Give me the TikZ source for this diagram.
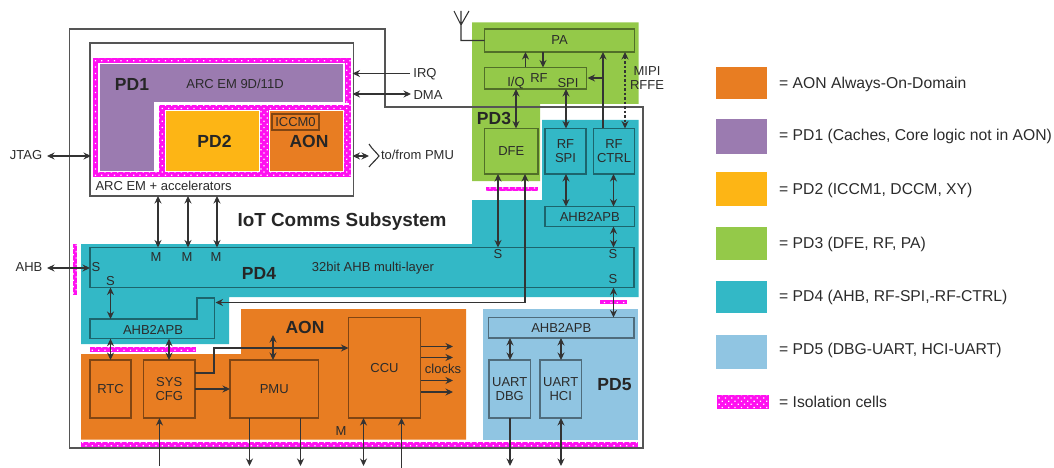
\documentclass[tikz,border=0pt]{standalone}
\usepackage{fontspec}
\setmainfont{Liberation Sans}
\usetikzlibrary{arrows.meta,patterns.meta}
\definecolor{cOrange}{HTML}{E87D22}
\definecolor{cPurple}{HTML}{9B7BB0}
\definecolor{cYellow}{HTML}{FDB515}
\definecolor{cGreen}{HTML}{94C949}
\definecolor{cTeal}{HTML}{33B8C6}
\definecolor{cBlue}{HTML}{90C5E2}
\definecolor{cLine}{HTML}{333333}
\definecolor{cGray}{HTML}{555555}
\definecolor{cTxt}{HTML}{2B2B2B}
\definecolor{cMag}{HTML}{FF10F0}
\tikzset{
  lbl/.style={font=\fontsize{13}{13.5}\selectfont,text=cTxt,inner sep=0pt,outer sep=0pt,align=center},
  big/.style={font=\fontsize{17.5}{18}\selectfont\bfseries,text=black!85,inner sep=0pt},
  legendtext/.style={font=\fontsize{15.7}{17}\selectfont,text=cTxt,anchor=west,inner sep=0pt},
  block/.style={draw=#1,line width=1.2pt,inner sep=0pt,outer sep=0pt},
  block/.default=cGray,
  wire/.style={draw=cLine,line width=1.1pt,>={Stealth[length=7.5pt,width=7pt]}},
  iso/.style={preaction={fill=cMag},pattern={Dots[radius=0.9pt,distance=4.5pt,angle=45]},pattern color=white},
  swatch/.style={inner sep=0pt,outer sep=0pt,draw=none},
}
\newcommand{\bx}[6]{\node[block=#2!55!black,minimum width={(#5-#3)*1pt},minimum height={(#6-#4)*1pt}] (#1) at ({(#3+#5)/2},{(#4+#6)/2}) {};}
\newcommand{\rg}[6]{\node[swatch,fill=#2,minimum width={(#5-#3)*1pt},minimum height={(#6-#4)*1pt}] (#1) at ({(#3+#5)/2},{(#4+#6)/2}) {};}
\begin{document}
\begin{tikzpicture}[x=1pt,y=-1pt]
\useasboundingbox (0,0) rectangle (1054,468);
% column coordinates
\foreach \n/\v in {xa/158,xb/188,xc/217,xd/498,xe/525,xf/613.5,xg/110.5,xh/169,xi/159.5,xj/249.5,xk/300.5,xl/273,xm/363.5,xn/401.5,xo/510,xp/561,xq/516,xr/566,xs/525.5,xt/543,xu/603,xv/625}
  \coordinate (\n) at (\v,0);
% power-domain regions
\fill[cGreen] (472,22.5)--(638.5,22.5)--(638.5,104)--(540,104)--(540,181)--(472,181)--cycle;
\fill[cTeal] (81,244)--(472,244)--(472,200)--(542,200)--(542,120)--(638.5,120)--(638.5,297)--(229,297)--(229,344)--(81,344)--cycle;
\fill[cOrange] (81,354)--(241,354)--(241,309)--(466,309)--(466,439.5)--(81,439.5)--cycle;
\fill[cBlue] (483,309) rectangle (638,439.5);
% subsystem outline
\draw[cGray,line width=1.1pt] (69.5,29)--(385,29)--(385,107)--(643,107)--(643,448)--(69.5,448)--cycle;
% ARC box
\node[block=cGray,fill=white,minimum width=263.5pt,minimum height=153pt] (arc) at (221.75,119.5) {};
\path[iso] (92.5,58) rectangle (351,177);
\fill[cPurple,draw=white,line width=1.2pt] (99,63.5)--(344,63.5)--(344,103)--(155,103)--(155,171.5)--(99,171.5)--cycle;
\fill[white] (155,103.5) rectangle (159,172);
\fill[white] (155,103.5) rectangle (349,105);
\rg{pdtwo}{cYellow}{165}{111}{259}{171}
\rg{pdaon}{cOrange}{269}{111}{343}{171}
\draw[white,line width=1pt] (pdtwo.south west) rectangle (pdtwo.north east) (pdaon.south west) rectangle (pdaon.north east);
\bx{iccm}{cOrange}{272}{114}{319}{130}
\node[lbl] at (iccm) {ICCM0};
\node[big] at (214.5,141) {PD2};
\node[big] at (309,141) {AON};
\node[big] at (132,84) {PD1};
\node[lbl] (arcem) at (235,84) {ARC EM 9D/11D};
\node[lbl,anchor=west] (arcacc) at (95.5,186) {ARC EM + accelerators};
\node[font=\fontsize{18.9}{19}\selectfont\bfseries,text=black!85,inner sep=0pt] (iot) at (342,222) {IoT Comms Subsystem};
% PD3
\bx{pa}{cGreen}{484.5}{29}{634.5}{52}
\bx{rf}{cGreen}{484.5}{67.5}{586.5}{89}
\bx{dfe}{cGreen}{484.5}{128.5}{538}{174}
\node[lbl] at (pa) {PA};
\node[lbl] (rflab) at (539,78) {RF};
\node[lbl] (iq) at (516,83) {I/Q};
\node[lbl] (spi) at (568,83) {SPI};
\node[lbl] at (dfe) {DFE};
\node[big] (pdthree) at (494,118) {PD3};
\path[iso] (486,186.5) rectangle (538,190.5);
% PD4
\bx{bus}{cTeal}{90}{247.5}{634}{287.5}
\bx{rfspi}{cTeal}{545}{128.5}{586}{174}
\bx{rfctrl}{cTeal}{593.5}{128.5}{634.5}{174}
\bx{brup}{cTeal}{545}{206.5}{634.5}{226.5}
\node[lbl] at (rfspi) {RF\\[1pt]SPI};
\node[lbl] at (rfctrl) {RF\\[1pt]CTRL};
\node[lbl] at (brup) {AHB2APB};
\node[big] (pdfour) at (259,273) {PD4};
\node[lbl] (buslab) at (373,268) {32bit AHB multi-layer};
\foreach \n/\x/\y/\t in {sa/96/267/S,sb/110.5/281/S,sc/498/254/S,sd/613/254/S,se/613/279/S,ma/156/257/M,mb/187/257/M,mc/216/257/M}
  \node[lbl] (\n) at (\x,\y) {\t};
\draw[cTeal!55!black,line width=1.2pt] (90,319)--(197,319)--(197,298)--(214.5,298)--(214.5,338.7)--(90,338.7)--cycle;
\node[lbl] (brleft) at (153,330) {AHB2APB};
\coordinate (brlt) at (110.5,319);
\coordinate (brlb) at (110.5,338.7);
\coordinate (brin) at (215.5,302.5);
\path[iso] (90,347) rectangle (196,351.5);
\path[iso] (600,300) rectangle (627,304);
\path[iso] (72.5,244) rectangle (76.5,295);
\path[iso] (81,442) rectangle (638,447);
% AON
\bx{rtc}{cOrange}{90}{360}{131}{418}
\bx{sys}{cOrange}{143.5}{360}{195}{418}
\bx{pmu}{cOrange}{230}{360}{318.5}{418}
\bx{ccu}{cOrange}{348.5}{317.5}{420.5}{418}
\node[lbl] at (rtc) {RTC};
\node[lbl] at (sys) {SYS\\[0pt]CFG};
\node[lbl] at (pmu) {PMU};
\node[lbl] at (ccu) {CCU};
\node[big] (aon) at (305,327) {AON};
\node[lbl] (mlab) at (341,431) {M};
\node[lbl] (clk) at (443,369) {clocks};
% PD5
\bx{brlow}{cBlue}{488.5}{317.5}{634}{338}
\bx{dbg}{cBlue}{489}{360}{530.5}{418}
\bx{hci}{cBlue}{540}{360}{581.5}{418}
\node[lbl] at (brlow) {AHB2APB};
\node[lbl] at (dbg) {UART\\[0pt]DBG};
\node[lbl] at (hci) {UART\\[0pt]HCI};
\node[big] (pdfive) at (614.5,385) {PD5};
% outer labels
\node[lbl] (jtag) at (26,155) {JTAG};
\node[lbl] (ahb) at (29,267) {AHB};
\node[lbl] (irq) at (425,74) {IRQ};
\node[lbl] (dma) at (428,95) {DMA};
\node[lbl,anchor=west] (tofrom) at (381,155) {to/from PMU};
\node[lbl] (mipi) at (647,78) {MIPI\\[0pt]RFFE};
% free ends
\foreach \n/\x/\y in {jtl/47/156,jtr/91/156,ahl/47/268,irqr/410/73.5,irql/352.5/73.5,dmar/411/94,dmal/352.5/94,pmul/352.5/156,pmur/369/156,ante/461/25,antt/461/11,antl/454/11,antr/469/11,brc/369/144,brd/369/167,brm/379/156,rfin/587.5/78,cka/453/346.5,ckb/453/357.5,ckc/453/380.5,ckd/453/392,cea/421/346.5,ceb/421/357.5,cec/421/380.5,ced/421/392,pmt/273/335,sysa/195/373,sysb/195/389,bota/159.5/466,botb/249.5/466,botc/300.5/466,botd/363.5/466,bote/401.5/468,botf/510/466,botg/561/466,ccul/348.5/348}
  \coordinate (\n) at (\x,\y);
% connectors
\begin{scope}[wire]
\draw[<->] (jtl) -- (jtr);
\draw[<->] (ahl) -- (bus.west |- ahl);
\draw[->] (irqr) -- (irql);
\draw[<->] (dmal) -- (dmar);
\draw[<->] (pmul) -- (pmur);
\draw (brc) .. controls (372,149) and (376,152) .. (brm) .. controls (376,160) and (372,163) .. (brd);
\draw[<->] (arc.south -| xa) -- (bus.north -| xa);
\draw[<->] (arc.south -| xb) -- (bus.north -| xb);
\draw[<->] (arc.south -| xc) -- (bus.north -| xc);
\draw[<->] (dfe.south -| xd) -- (bus.north -| xd);
\draw[<->] (dfe.south -| xe) |- (brin);
\draw[<->] (brup.south -| xf) -- (bus.north -| xf);
\draw[<->] (bus.south -| xf) -- (brlow.north -| xf);
\draw[<->] (bus.south -| brlt) -- (brlt);
\draw[<->] (brlb) -- (rtc.north -| brlb);
\draw[<->] (brlb -| xh) -- (sys.north -| xh);
\draw[<->] (rfspi.south -| xr) -- (brup.north -| xr);
\draw[<->] (rfctrl.south -| xf) -- (brup.north -| xf);
\draw[<->] (rf.south -| xq) -- (dfe.north -| xq);
\draw[<->] (rf.south -| xr) -- (rfspi.north -| xr);
\draw[->] (rf.north -| xs) -- (pa.south -| xs);
\draw[->] (pa.south -| xt) -- (rf.north -| xt);
\draw[->] (rfctrl.north -| xu) -- (pa.south -| xu);
\draw[->] (rfin -| xu) -- (rfin);
\draw[<->,dash pattern=on 2.5pt off 2pt] (pa.south -| xv) -- (rfctrl.north -| xv);
\draw (antl) -- (ante) -- (antr) (antt) -- (ante) |- (pa.west);
\draw[->] (sysb) -- (pmu.west |- sysb);
\draw[->] (sysa) -- (214,373) -- (214,348) -- (ccul);
\draw[<->] (pmu.north -| pmt) -- (pmt);
\draw[->] (cea) -- (cka);
\draw[->] (ceb) -- (ckb);
\draw[->] (cec) -- (ckc);
\draw[->] (ced) -- (ckd);
\draw[->] (bota) -- (sys.south -| bota);
\draw[->] (pmu.south -| botb) -- (botb);
\draw[->] (pmu.south -| botc) -- (botc);
\draw[<->] (ccu.south -| botd) -- (botd);
\draw[->] (bote) -- (ccu.south -| bote);
\draw[->] (dbg.south -| botf) -- (botf);
\draw[<->] (hci.south -| botg) -- (botg);
\draw[<->] (brlow.south -| botf) -- (dbg.north -| botf);
\draw[<->] (brlow.south -| botg) -- (hci.north -| botg);
\end{scope}
% legend
\rg{la}{cOrange}{716}{67}{767}{99.5}
\rg{lb}{cPurple}{716}{119}{767}{153.5}
\rg{lc}{cYellow}{716}{171.5}{767}{205.5}
\rg{ld}{cGreen}{716}{226.5}{767}{260}
\rg{le}{cTeal}{716}{280.5}{767}{313}
\rg{lf}{cBlue}{716}{334.5}{767}{368.5}
\path[iso] (717,395) rectangle (769,409);
\node[legendtext] (ta) at (779,84) {= AON Always-On-Domain};
\node[legendtext] (tb) at (779,136.5) {= PD1 (Caches, Core logic not in AON)};
\node[legendtext] (tc) at (779,190) {= PD2 (ICCM1, DCCM, XY)};
\node[legendtext] (td) at (779,244) {= PD3 (DFE, RF, PA)};
\node[legendtext] (te) at (779,297) {= PD4 (AHB, RF-SPI,-RF-CTRL)};
\node[legendtext] (tf) at (779,350) {= PD5 (DBG-UART, HCI-UART)};
\node[legendtext] (tg) at (779,402) {= Isolation cells};
\end{tikzpicture}
\end{document}
